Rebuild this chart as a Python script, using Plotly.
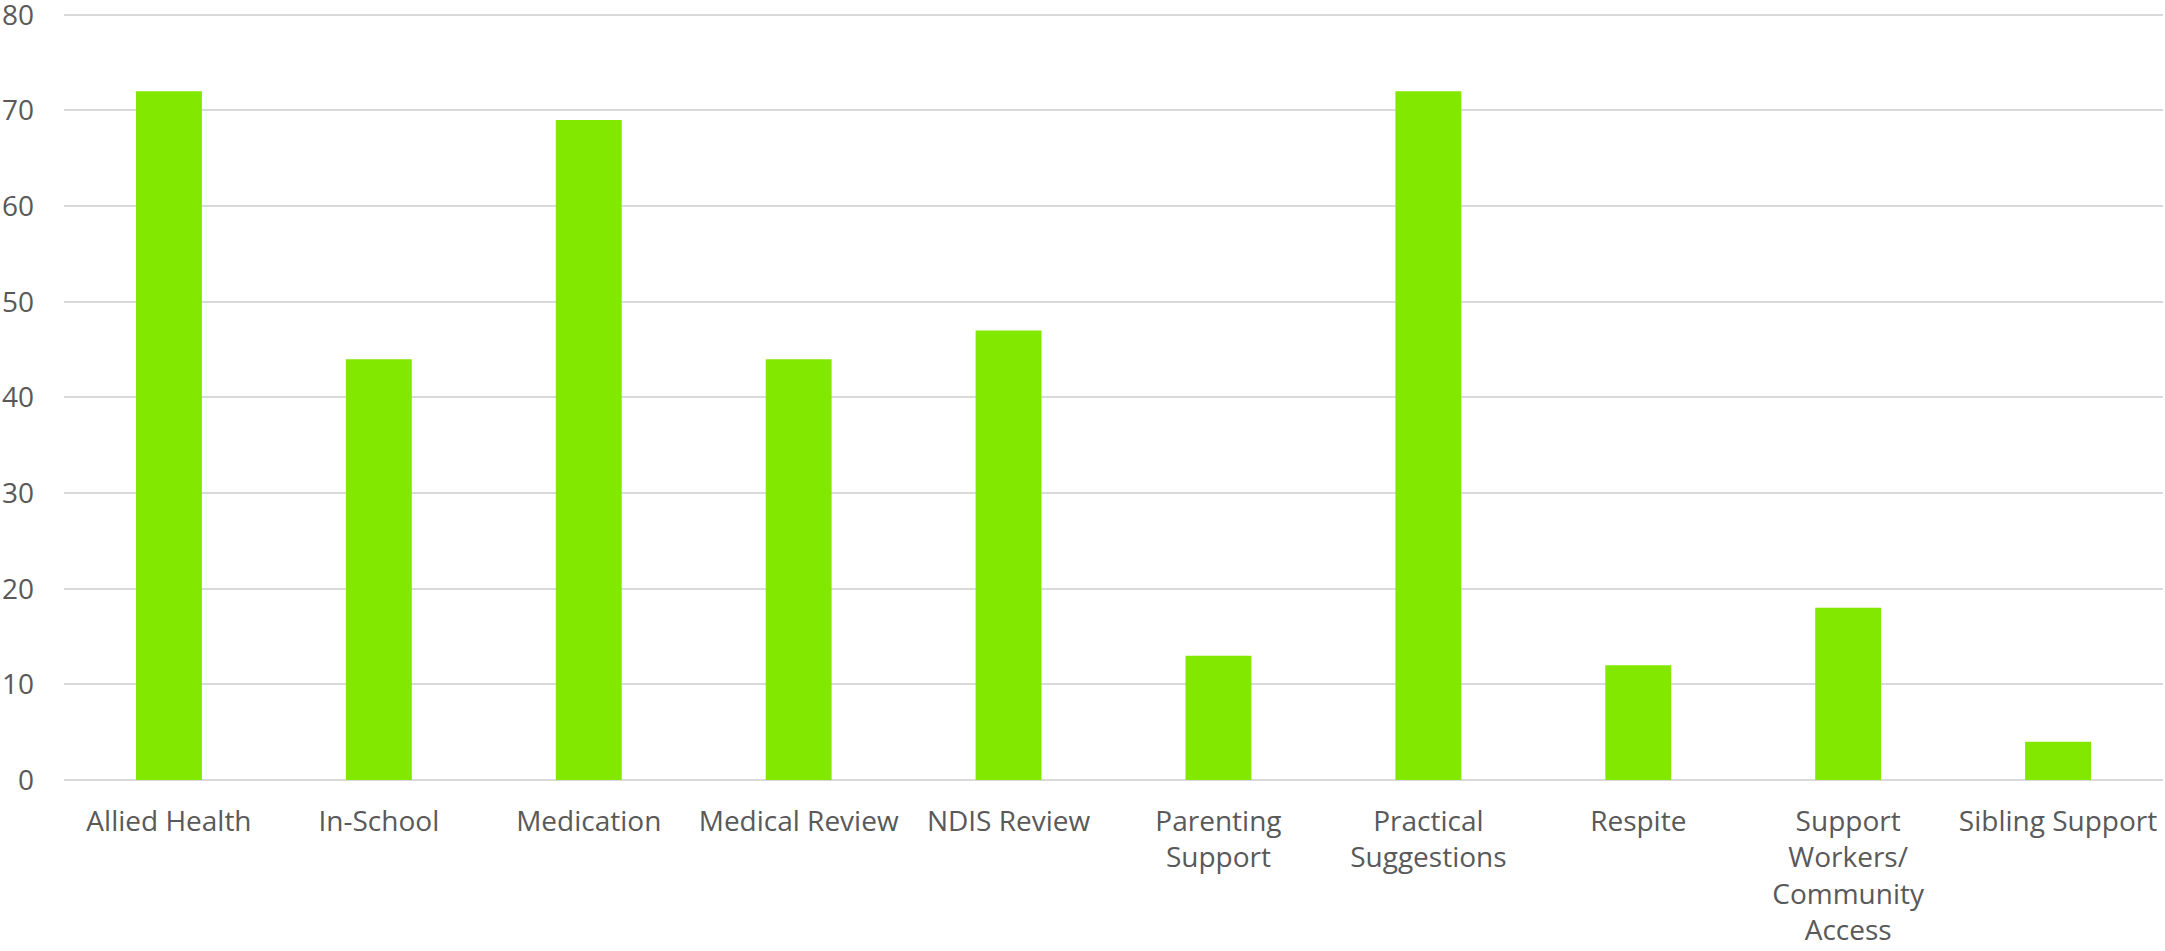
import plotly.graph_objects as go

categories = ["Allied Health", "In-School", "Medication", "Medical Review", "NDIS Review",
              "Parenting Support", "Practical Suggestions", "Respite",
              "Support Workers/ Community Access", "Sibling Support"]
tick_labels = ["Allied Health", "In-School", "Medication", "Medical Review", "NDIS Review",
               "Parenting<br>Support", "Practical<br>Suggestions", "Respite",
               "Support<br>Workers/<br>Community<br>Access", "Sibling Support"]
values = [72, 44, 69, 44, 47, 13, 72, 12, 18, 4]
y_ticks = [0, 10, 20, 30, 40, 50, 60, 70, 80]

fig = go.Figure(go.Bar(x=categories, y=values, marker=dict(color="#82E800", line=dict(width=0))))

font = dict(family="Open Sans", size=28, color="#595959")
fig.update_layout(
    width=2165, height=951,
    margin=dict(l=64, r=2, t=10, b=171),
    paper_bgcolor="white", plot_bgcolor="white",
    bargap=0.686,
    showlegend=False,
    font=font,
)
fig.update_xaxes(
    tickmode="array", tickvals=categories, ticktext=tick_labels,
    tickfont=font, showgrid=False, showline=False, ticks="",
    ticklabelstandoff=22, ticklabeloverflow="allow", automargin=False,
)
fig.update_yaxes(
    range=[0, 80.5], tickmode="array", tickvals=y_ticks,
    tickfont=font, showgrid=True, gridcolor="#d9d9d9", gridwidth=1.5,
    zeroline=True, zerolinecolor="#d9d9d9", zerolinewidth=1.5,
    ticks="", ticklabelstandoff=29, ticklabeloverflow="allow", automargin=False,
)
fig.write_html("out.html")
